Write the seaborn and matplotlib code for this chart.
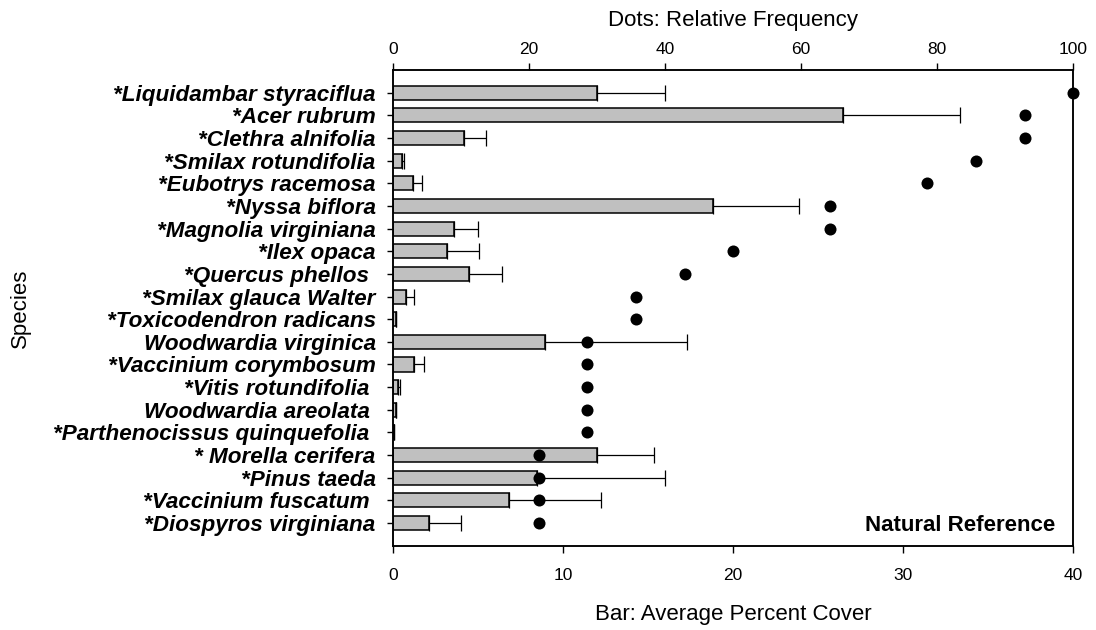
import numpy as np
import pandas as pd
import matplotlib
matplotlib.use("Agg")
import matplotlib.pyplot as plt
import seaborn as sns

# Understory species, ordered by relative frequency
species = [
    "*Liquidambar styraciflua",
    "*Acer rubrum",
    "*Clethra alnifolia",
    "*Smilax rotundifolia",
    "*Eubotrys racemosa",
    "*Nyssa biflora",
    "*Magnolia virginiana",
    "*Ilex opaca",
    "*Quercus phellos ",
    "*Smilax glauca Walter",
    "*Toxicodendron radicans",
    "Woodwardia virginica",
    "*Vaccinium corymbosum",
    "*Vitis rotundifolia ",
    "Woodwardia areolata ",
    "*Parthenocissus quinquefolia ",
    "* Morella cerifera",
    "*Pinus taeda",
    "*Vaccinium fuscatum ",
    "*Diospyros virginiana",
]

# Average percent cover (bars) and its standard error
cover = [12.0, 26.5, 4.2, 0.55, 1.15, 18.8, 3.6, 3.15, 4.45, 0.75,
         0.18, 8.95, 1.25, 0.3, 0.16, 0.06, 12.0, 8.45, 6.85, 2.1]
cover_se = [4.0, 6.85, 1.25, 0.1, 0.58, 5.1, 1.4, 1.9, 1.95, 0.5,
            0.0, 8.35, 0.55, 0.13, 0.0, 0.0, 3.35, 7.55, 5.4, 1.9]

# Relative frequency (dots)
frequency = [100.0, 92.9, 92.9, 85.7, 78.6, 64.3, 64.3, 50.0, 42.9, 35.7,
             35.7, 28.6, 28.6, 28.6, 28.6, 28.6, 21.4, 21.4, 21.4, 21.4]

df = pd.DataFrame({"species": species, "cover": cover,
                   "se": cover_se, "freq": frequency})
df["pos"] = np.arange(len(df))

sns.set_theme(style="white")
plt.rcParams["font.family"] = ["Liberation Sans", "DejaVu Sans"]
plt.rcParams.update({"text.color": "black", "axes.labelcolor": "black",
                     "xtick.color": "black", "ytick.color": "black",
                     "axes.edgecolor": "black"})

fig = plt.figure(figsize=(10.96, 6.30), dpi=100)
ax = fig.add_axes([0.3586, 0.1338, 0.6204, 0.7551])

sns.barplot(data=df, x="cover", y="species", orient="h", ax=ax,
            color="#c0c0c0", saturation=1, width=0.62,
            edgecolor="black", linewidth=1.1, errorbar=None)
ax.errorbar(df["cover"], df["pos"],
            xerr=[np.zeros(len(df)), df["se"]],
            fmt="none", ecolor="black", elinewidth=0.9,
            capsize=5.5, capthick=0.9, zorder=1)

ax.set_xlim(0, 40)
ax.set_xticks([0, 10, 20, 30, 40])
ax.set_xlabel("Bar: Average Percent Cover", fontsize=16, labelpad=15,
              color="black")
ax.set_ylabel("Species", fontsize=16, labelpad=16, color="black")

for lab in ax.get_yticklabels():
    lab.set_fontweight("bold")
    lab.set_fontstyle("italic")
    lab.set_fontsize(16.2)
    lab.set_color("black")

ax.tick_params(axis="x", direction="out", length=5, width=1,
               labelsize=12.5, pad=11, bottom=True, colors="black")
ax.tick_params(axis="y", direction="out", length=4.5, width=1,
               pad=8, left=True, colors="black")

# Relative frequency on the upper axis
ax2 = ax.twiny()
sns.scatterplot(data=df, x="freq", y="pos", ax=ax2, color="black",
                s=75, edgecolor="black", linewidth=0, zorder=5,
                legend=False, clip_on=False)
ax2.set_xlim(0, 100)
ax2.set_xticks([0, 20, 40, 60, 80, 100])
ax2.set_xlabel("Dots: Relative Frequency", fontsize=16, labelpad=12,
               color="black")
ax2.tick_params(axis="x", direction="out", length=5, width=1,
                labelsize=12.5, pad=4, top=True, colors="black")
ax2.set_ylim(len(df), -1)
ax.set_ylim(len(df), -1)
ax2.set_ylabel("")

for a in (ax, ax2):
    for sp in a.spines.values():
        sp.set_color("black")
        sp.set_linewidth(1.1)
        sp.set_visible(True)

ax.text(0.974, 0.02, "Natural Reference", transform=ax.transAxes,
        ha="right", va="bottom", fontsize=16, fontweight="bold",
        color="black")

fig.savefig("out.png", dpi=100)
